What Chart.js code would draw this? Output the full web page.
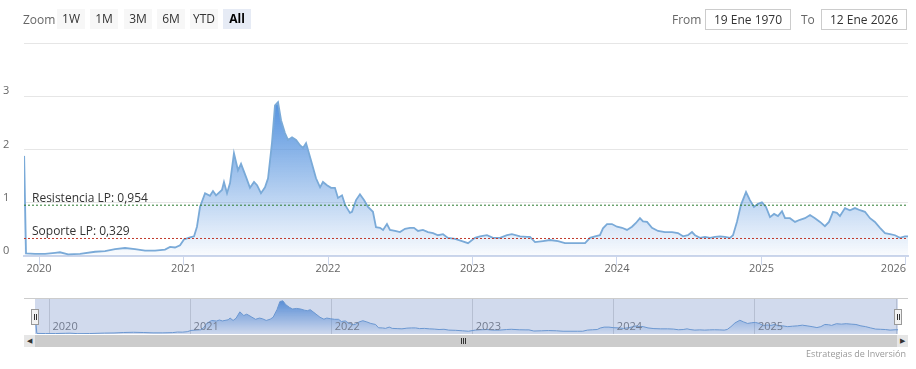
<!DOCTYPE html>
<html>
<head>
<meta charset="utf-8">
<script src="https://cdn.jsdelivr.net/npm/chart.js@4.4.1/dist/chart.umd.min.js"></script>
<style>
  body { margin:0; background:#fff; font-family:"Open Sans", sans-serif; }
  #wrap { position:relative; width:916px; height:369px; overflow:hidden; background:#fff; }
  canvas { position:absolute; }
  #main { left:0; top:0; }
  #nav { left:35px; top:299px; background:#fff; }
  .txt { position:absolute; top:10px; font-size:12px; line-height:20px; color:#666; }
  .btn { position:absolute; top:9px; width:28px; height:20px; background:#f7f7f7; color:#333;
         font-size:12px; line-height:20px; text-align:center; }
  .btn.on { background:#e6ebf5; color:#000; font-weight:bold; }
  .box { position:absolute; top:9px; width:84px; height:19px; border:1px solid #ccc; color:#333;
         font-size:12px; line-height:19px; text-align:center; }
  #navTop { position:absolute; left:24px; top:298px; width:884px; height:1px; background:#ccc; }
  .handle { position:absolute; top:309px; width:6px; height:14px; background:#f2f2f2; border:1px solid #999; }
  .handle i { position:absolute; top:4px; width:1px; height:6px; background:#333; }
  #track { position:absolute; left:24px; top:335px; width:884px; height:12px; background:#f2f2f2; }
  #bar { position:absolute; left:35px; top:335px; width:863px; height:12px; background:#ccc; }
  .arr { position:absolute; top:335px; width:11px; height:12px; background:#e6e6e6; color:#333;
         font-size:7px; line-height:12px; text-align:center; }
  .grip { position:absolute; top:338px; width:1px; height:6px; background:#333; }
  #credit { position:absolute; right:10px; top:347px; font-size:9px; color:#999; }
</style>
</head>
<body>
<div id="wrap">
  <canvas id="main" width="916" height="285"></canvas>
  <div class="txt" style="left:23px">Zoom</div>
  <div class="btn" style="left:57px">1W</div>
  <div class="btn" style="left:90px">1M</div>
  <div class="btn" style="left:124px">3M</div>
  <div class="btn" style="left:157px">6M</div>
  <div class="btn" style="left:190px">YTD</div>
  <div class="btn on" style="left:223px">All</div>
  <div class="txt" style="left:672px">From</div>
  <div class="box" style="left:705px">19 Ene 1970</div>
  <div class="txt" style="left:801px">To</div>
  <div class="box" style="left:821px">12 Ene 2026</div>

  <div id="navTop"></div>
  <canvas id="nav" width="863" height="35"></canvas>
  <div class="handle" style="left:31px"><i style="left:2px"></i><i style="left:4px"></i></div>
  <div class="handle" style="left:894px"><i style="left:2px"></i><i style="left:4px"></i></div>
  <div id="track"></div>
  <div id="bar"></div>
  <div class="arr" style="left:24px">&#9664;</div>
  <div class="arr" style="left:897px">&#9654;</div>
  <div class="grip" style="left:461px"></div>
  <div class="grip" style="left:463px"></div>
  <div class="grip" style="left:465px"></div>
  <div id="credit">Estrategias de Inversión</div>
</div>

<script>
// fecha en años decimales
const dates = [
  2019.897, 2019.910, 2019.972, 2020.042, 2020.111, 2020.145, 2020.201, 2020.284, 2020.388, 2020.457,
  2020.526, 2020.595, 2020.664, 2020.734, 2020.803, 2020.872, 2020.907, 2020.941, 2020.976, 2021.003,
  2021.045, 2021.073, 2021.093, 2021.114, 2021.149, 2021.183, 2021.204, 2021.225, 2021.266, 2021.280,
  2021.301, 2021.322, 2021.349, 2021.377, 2021.398, 2021.433, 2021.460, 2021.488, 2021.509, 2021.536,
  2021.564, 2021.585, 2021.612, 2021.633, 2021.654, 2021.675, 2021.702, 2021.723, 2021.751, 2021.779,
  2021.806, 2021.827, 2021.848, 2021.882, 2021.917, 2021.945, 2021.965, 2021.993, 2022.021, 2022.048,
  2022.069, 2022.097, 2022.118, 2022.152, 2022.166, 2022.194, 2022.221, 2022.249, 2022.277, 2022.311,
  2022.332, 2022.360, 2022.381, 2022.408, 2022.429, 2022.464, 2022.498, 2022.533, 2022.567, 2022.595,
  2022.623, 2022.657, 2022.692, 2022.727, 2022.761, 2022.796, 2022.830, 2022.879, 2022.927, 2022.969,
  2023.017, 2023.052, 2023.100, 2023.142, 2023.190, 2023.239, 2023.273, 2023.329, 2023.377, 2023.398,
  2023.433, 2023.488, 2023.536, 2023.592, 2023.640, 2023.696, 2023.744, 2023.779, 2023.813, 2023.848,
  2023.882, 2023.903, 2023.931, 2023.965, 2024.000, 2024.035, 2024.069, 2024.104, 2024.131, 2024.159,
  2024.180, 2024.208, 2024.242, 2024.284, 2024.332, 2024.381, 2024.422, 2024.457, 2024.491, 2024.519,
  2024.540, 2024.574, 2024.609, 2024.644, 2024.678, 2024.713, 2024.747, 2024.782, 2024.803, 2024.830,
  2024.858, 2024.893, 2024.920, 2024.948, 2024.976, 2025.003, 2025.031, 2025.059, 2025.087, 2025.114,
  2025.142, 2025.163, 2025.197, 2025.232, 2025.266, 2025.301, 2025.336, 2025.370, 2025.405, 2025.439,
  2025.467, 2025.495, 2025.522, 2025.543, 2025.578, 2025.612, 2025.647, 2025.682, 2025.716, 2025.751,
  2025.785, 2025.820, 2025.855, 2025.889, 2025.924, 2025.958, 2025.993, 2026.014
];
const values = [
  1.88, 0.05, 0.04, 0.04, 0.06, 0.07, 0.03, 0.04, 0.08, 0.09,
  0.13, 0.15, 0.13, 0.10, 0.10, 0.12, 0.17, 0.16, 0.20, 0.31,
  0.35, 0.37, 0.55, 0.92, 1.18, 1.13, 1.22, 1.14, 1.24, 1.39,
  1.18, 1.37, 1.93, 1.61, 1.73, 1.48, 1.28, 1.39, 1.33, 1.18,
  1.29, 1.46, 2.12, 2.83, 2.89, 2.55, 2.31, 2.18, 2.23, 2.18,
  2.08, 2.03, 2.12, 1.80, 1.46, 1.29, 1.39, 1.33, 1.28, 1.28,
  1.09, 1.14, 0.96, 0.81, 0.83, 1.05, 1.16, 1.05, 0.92, 0.83,
  0.54, 0.53, 0.49, 0.60, 0.49, 0.47, 0.45, 0.51, 0.53, 0.53,
  0.47, 0.49, 0.45, 0.43, 0.39, 0.41, 0.34, 0.32, 0.28, 0.24,
  0.34, 0.37, 0.39, 0.34, 0.34, 0.39, 0.41, 0.37, 0.36, 0.36,
  0.26, 0.28, 0.30, 0.28, 0.24, 0.24, 0.24, 0.24, 0.34, 0.37,
  0.39, 0.52, 0.60, 0.60, 0.55, 0.53, 0.49, 0.55, 0.62, 0.71,
  0.65, 0.64, 0.53, 0.47, 0.45, 0.45, 0.43, 0.37, 0.39, 0.45,
  0.39, 0.34, 0.36, 0.34, 0.36, 0.37, 0.36, 0.34, 0.39, 0.64,
  0.96, 1.20, 1.05, 0.92, 0.98, 1.01, 0.92, 0.73, 0.79, 0.75,
  0.84, 0.71, 0.71, 0.64, 0.68, 0.71, 0.77, 0.71, 0.64, 0.56,
  0.64, 0.83, 0.81, 0.75, 0.90, 0.86, 0.90, 0.86, 0.83, 0.71,
  0.64, 0.53, 0.43, 0.41, 0.39, 0.34, 0.37, 0.37
];
const resistencia = 0.954;
const soporte = 0.329;
const resistenciaLabel = 'Resistencia LP: 0,954';
const soporteLabel = 'Soporte LP: 0,329';

const xTicks = [2020, 2021, 2022, 2023, 2024, 2025, 2026];
const xTickLabels = ['2020', '2021', '2022', '2023', '2024', '2025', '2026'];
const yTicks = [0, 1, 2, 3, 4];
const yTickLabels = ['0', '1', '2', '3', ''];

const xMin = 2019.896, xMax = 2026.014;
const points = dates.map((d, i) => ({x: d, y: values[i]}));
const maxVal = Math.max(...values);

function areaFill(ctx){
    const chart = ctx.chart;
    const area = chart.chartArea;
    if(!area) return 'rgba(90,150,220,0.4)';
    const top = chart.scales.y.getPixelForValue(maxVal);
    const g = chart.ctx.createLinearGradient(0, top, 0, area.bottom);
    g.addColorStop(0, 'rgba(84,146,222,1)');
    g.addColorStop(1, 'rgba(84,146,222,0.03)');
    return g;
}

// etiquetas del eje x (la ultima se recorta al borde como en el original)
const xLabels = {
    id: 'xLabels',
    afterDraw(chart){
        const {ctx, chartArea, scales} = chart;
        ctx.save();
        ctx.font = '11px "Open Sans"';
        ctx.fillStyle = '#666';
        ctx.textAlign = 'center';
        ctx.textBaseline = 'middle';
        xTicks.forEach((v, i) => {
            let px = scales.x.getPixelForValue(v);
            const w = ctx.measureText(xTickLabels[i]).width;
            if(px + w / 2 > chart.width - 10) px = chart.width - 10 - w / 2;
            ctx.fillText(xTickLabels[i], px, chartArea.bottom + 13);
        });
        ctx.restore();
    }
};

const levelLabels = {
    id: 'levelLabels',
    afterDatasetsDraw(chart){
        const {ctx, chartArea, scales} = chart;
        ctx.save();
        ctx.font = '12px "Open Sans"';
        ctx.fillStyle = '#333';
        ctx.textAlign = 'left';
        ctx.textBaseline = 'middle';
        ctx.fillText(resistenciaLabel, chartArea.left + 8, scales.y.getPixelForValue(resistencia) - 7);
        ctx.fillText(soporteLabel, chartArea.left + 8, scales.y.getPixelForValue(soporte) - 7);
        ctx.restore();
    }
};

new Chart(document.getElementById('main'), {
    type: 'line',
    data: {
        datasets: [{
            data: points,
            borderColor: '#7aaad8',
            borderWidth: 1.8,
            backgroundColor: areaFill,
            fill: 'origin',
            pointRadius: 0,
            tension: 0,
            order: 2
        }, {
            data: [{x: xMin, y: resistencia}, {x: xMax, y: resistencia}],
            borderColor: '#2e7d32',
            borderWidth: 1,
            borderDash: [2, 2],
            pointRadius: 0,
            fill: false,
            order: 1
        }, {
            data: [{x: xMin, y: soporte}, {x: xMax, y: soporte}],
            borderColor: '#c0392b',
            borderWidth: 1,
            borderDash: [2, 2],
            pointRadius: 0,
            fill: false,
            order: 1
        }]
    },
    options: {
        responsive: false,
        animation: false,
        events: [],
        layout: {padding: {left: 3, right: 8, top: 43, bottom: 0}},
        plugins: {legend: {display: false}, tooltip: {enabled: false}},
        scales: {
            x: {
                type: 'linear',
                min: xMin,
                max: xMax,
                afterBuildTicks: s => { s.ticks = xTicks.map(v => ({value: v})); },
                afterFit: s => { s.height = 29; },
                ticks: {display: false},
                grid: {drawOnChartArea: false, drawTicks: true, tickLength: 9, color: '#ccd6eb'},
                border: {display: true, color: '#ccd6eb', width: 2}
            },
            y: {
                min: 0,
                max: 4,
                afterBuildTicks: s => { s.ticks = yTicks.map(v => ({value: v})); },
                afterFit: s => { s.width = 21; },
                ticks: {
                    callback: (v, i) => yTickLabels[i],
                    crossAlign: 'far',
                    labelOffset: -5,
                    padding: 0,
                    color: '#666',
                    font: {family: 'Open Sans', size: 11}
                },
                grid: {color: '#e6e6e6', drawTicks: false},
                border: {display: false}
            }
        }
    },
    plugins: [xLabels, levelLabels]
});

// navegador inferior
const navDecor = {
    id: 'navDecor',
    afterDatasetsDraw(chart){
        const {ctx, chartArea, scales} = chart;
        ctx.save();
        ctx.font = '11px "Open Sans"';
        ctx.fillStyle = '#777';
        ctx.textAlign = 'left';
        ctx.textBaseline = 'middle';
        xTicks.forEach((v, i) => {
            const px = scales.x.getPixelForValue(v);
            if(px < chart.width - 20) ctx.fillText(xTickLabels[i], px + 3, chartArea.bottom - 7);
        });
        ctx.restore();
    },
    afterDraw(chart){
        const ctx = chart.ctx;
        ctx.save();
        ctx.fillStyle = 'rgba(102,133,194,0.3)';
        ctx.fillRect(0, 0, chart.width, chart.height);
        ctx.restore();
    }
};

new Chart(document.getElementById('nav'), {
    type: 'line',
    data: {
        datasets: [{
            data: points,
            borderColor: '#6d9fd6',
            borderWidth: 1,
            backgroundColor: areaFill,
            fill: 'origin',
            pointRadius: 0,
            tension: 0
        }]
    },
    options: {
        responsive: false,
        animation: false,
        events: [],
        layout: {padding: 0},
        plugins: {legend: {display: false}, tooltip: {enabled: false}},
        scales: {
            x: {
                type: 'linear',
                min: dates[0],
                max: dates[dates.length - 1],
                afterBuildTicks: s => { s.ticks = xTicks.map(v => ({value: v})); },
                afterFit: s => { s.height = 0; },
                ticks: {display: false},
                grid: {color: '#d8d8d8', drawTicks: false},
                border: {display: false}
            },
            y: {display: false, min: 0, max: 3.05}
        }
    },
    plugins: [navDecor]
});
</script>
</body>
</html>
